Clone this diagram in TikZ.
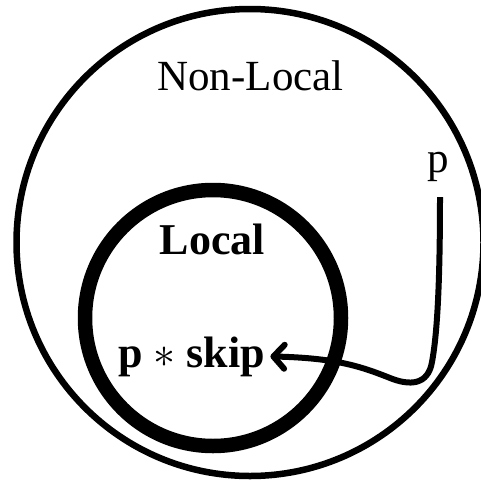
\documentclass[tikz,border=0pt]{standalone}
\usepackage{fix-cm}
\usepackage{fontspec}
\setmainfont{Liberation Serif}
\usetikzlibrary{arrows.meta}

\tikzset{
  region/.style={circle, draw, inner sep=0pt},
  label43/.style={font=\fontsize{43}{50}\selectfont, anchor=base, inner sep=0pt},
  label44b/.style={font=\fontsize{44}{50}\selectfont\bfseries, anchor=base},
  flow/.style={line width=6pt,
    -{Straight Barb[length=11pt,width=24pt,line cap=round,line join=round]}}
}

\begin{document}
\begin{tikzpicture}[x=1pt,y=-1pt]
\useasboundingbox (0,0) rectangle (480,482);

% the two regions
\node[region, line width=6.5pt, minimum size=467pt] (outer) at (250,242.5) {};
\node[region, line width=14.5pt, minimum size=256pt] (inner) at (213,318) {};

% labels
\node[label43] (nonlocal) at (250.5,90) {Non-Local};
\node[label44b, inner sep=0pt] (local) at (212.5,254) {Local};
\node[label44b] (pskip) at (191.5,367) {p $\ast$ skip};
\node[label43] (p) at (438,172.6) {p};

% p flows into the local region
\coordinate (pstart) at (440,197);
\draw[flow] (pstart) .. controls (440,300) and (436,340) .. (432,362)
  .. controls (428,385) and (410,386) .. (390,378)
  .. controls (360,366) and (335,358) .. ([xshift=2pt]pskip.east);
\end{tikzpicture}
\end{document}
